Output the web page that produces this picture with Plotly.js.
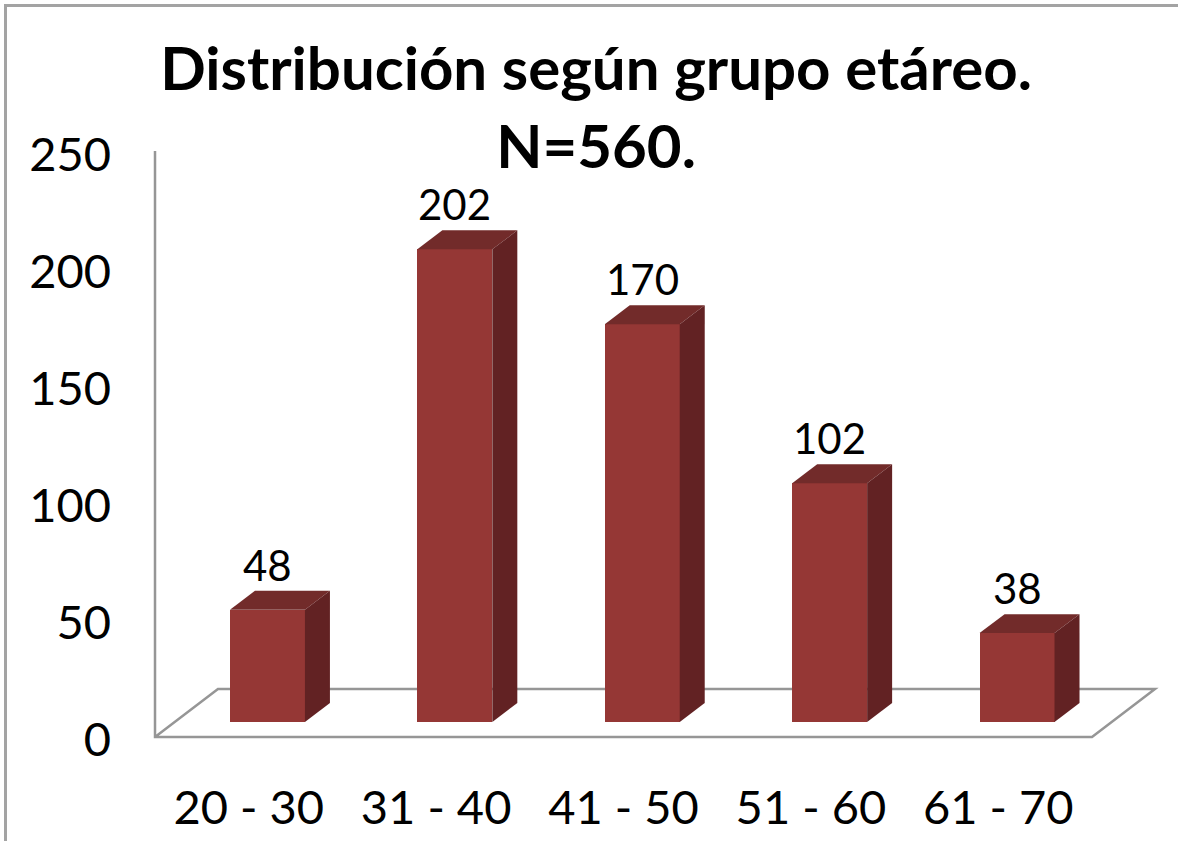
<!DOCTYPE html>
<html>
<head>
<meta charset="utf-8">
<script src="https://cdn.plot.ly/plotly-3.0.1.min.js"></script>
<style>
  html, body { margin: 0; padding: 0; background: #fff; }
  #wrap { position: relative; width: 1178px; height: 841px; overflow: hidden; }
  #chart { width: 1178px; height: 841px; }
  #frame { position: absolute; left: 4px; top: 4px; width: 1200px; height: 900px;
           border-top: 3px solid #a3a3a3; border-left: 3px solid #a3a3a3; pointer-events: none; }
</style>
</head>
<body>
<div id="wrap">
  <div id="chart"></div>
  <div id="frame"></div>
</div>
<script>
// ---- data ----
const categories = ['20 - 30', '31 - 40', '41 - 50', '51 - 60', '61 - 70'];
const counts = [48, 202, 170, 102, 38];
const yTickValues = [0, 50, 100, 150, 200, 250];
const chartTitle = 'Distribución según grupo etáreo.<br>N=560.';

// ---- styling / 3D geometry (in axis units) ----
const FRONT = '#953735', TOP = '#722b2a', SIDE = '#622223', GRID = '#969696';
const barOffset = -0.1, barWidth = 0.4;      // front face position relative to category
const depthX = 0.1334, depthY = 8.1;          // bar depth projection
const floorFront = -6.4, floorBack = 14.1, floorDX = 0.336, wallTop = 244;
const FONT = 'Lato, "Open Sans", sans-serif';

const pos = categories.map((c, i) => i);

const shapes = [];
const line = {color: GRID, width: 2.5};
const nCat = categories.length;
shapes.push({type: 'path', xref: 'x', yref: 'y2', layer: 'below', line: line,
  path: `M -0.5,${wallTop} L -0.5,${floorFront} L ${nCat - 0.5},${floorFront} L ${nCat - 0.5 + floorDX},${floorBack} L ${-0.5 + floorDX},${floorBack} L -0.5,${floorFront}`});

pos.forEach((p, i) => {
  const v = counts[i];
  const xl = p + barOffset, xr = p + barOffset + barWidth;
  shapes.push({type: 'path', xref: 'x', yref: 'y2', fillcolor: TOP, line: {width: 0},
    path: `M ${xl},${v} L ${xl + depthX},${v + depthY} L ${xr + depthX},${v + depthY} L ${xr},${v} Z`});
  shapes.push({type: 'path', xref: 'x', yref: 'y2', fillcolor: SIDE, line: {width: 0},
    path: `M ${xr},0 L ${xr + depthX},${depthY} L ${xr + depthX},${v + depthY} L ${xr},${v} Z`});
});

const annotations = pos.map((p, i) => ({
  x: p + barOffset + barWidth / 2, y: counts[i] + depthY, xref: 'x', yref: 'y2',
  text: String(counts[i]), showarrow: false, yanchor: 'bottom', yshift: -1,
  font: {family: FONT, size: 42, color: '#000'}
}));

const bars = {
  type: 'bar', x: pos, y: counts, yaxis: 'y2',
  width: barWidth, offset: barOffset,
  marker: {color: FRONT, line: {width: 0}},
  hoverinfo: 'x+y', showlegend: false
};
// invisible trace that anchors the value-axis (tick labels) subplot
const axisAnchor = {
  type: 'scatter', mode: 'markers', x: pos, y: counts, yaxis: 'y',
  marker: {opacity: 0, size: 1}, hoverinfo: 'skip', showlegend: false
};

const layout = {
  width: 1178, height: 841,
  margin: {l: 112, r: 6, t: 100, b: 81},
  paper_bgcolor: '#fff', plot_bgcolor: 'rgba(0,0,0,0)',
  title: {text: chartTitle, xref: 'container', x: 0.506, xanchor: 'center',
          yref: 'container', y: 0.893, yanchor: 'top',
          font: {family: FONT, size: 60, color: '#000', weight: 'bold'}},
  xaxis: {range: [-0.7295, 4.9269], tickvals: pos, ticktext: categories,
          showgrid: false, zeroline: false, showline: false, ticks: '',
          ticklabelstandoff: 16,
          tickfont: {family: FONT, size: 47, color: '#000'}},
  yaxis: {range: [-8.547, 273.5], tickvals: yTickValues,
          showgrid: false, zeroline: false, showline: false, ticks: '',
          tickfont: {family: FONT, size: 47, color: '#000'}},
  yaxis2: {range: [-16.239, 265.81], overlaying: 'y', visible: false, fixedrange: true},
  shapes: shapes,
  annotations: annotations,
  bargap: 0
};

Plotly.newPlot('chart', [axisAnchor, bars], layout, {displayModeBar: false, staticPlot: true});
</script>
</body>
</html>
